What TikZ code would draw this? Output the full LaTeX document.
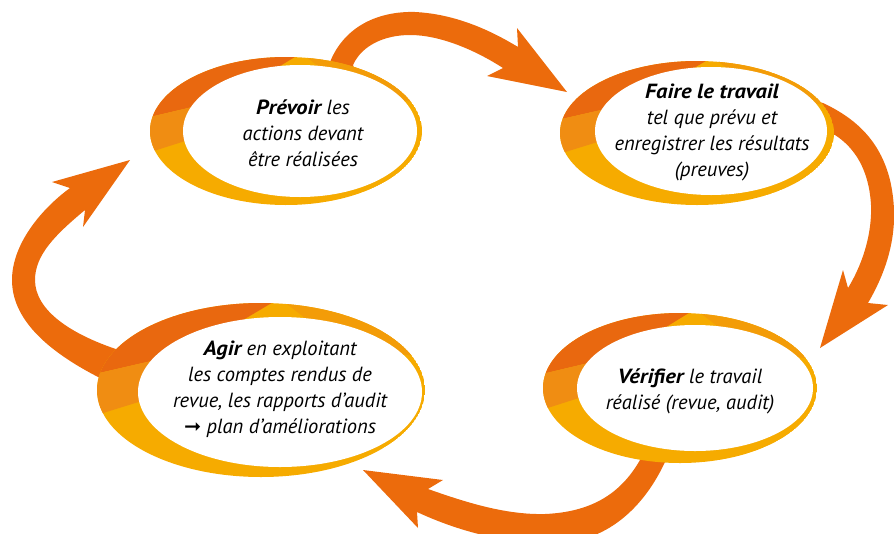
\documentclass[tikz,border=0pt]{standalone}
\usepackage{fontspec}
\setmainfont{PT Sans}
\newfontfamily\symfont{DejaVu Sans}
\newcommand\kw[1]{{\bfseries\addfontfeature{FakeStretch=1.1}#1}}
\definecolor{arrowc}{HTML}{EC6B0C}
\definecolor{orDark}{HTML}{E9680F}
\definecolor{orMid}{HTML}{F08D12}
\definecolor{orTR}{HTML}{F39C08}
\definecolor{orLight}{HTML}{F6AB00}
\tikzset{
  bigarrow/.style={fill=arrowc},
  hole/.style={fill=white},
  label/.style={align=center, font=\fontsize{20.5}{26}\selectfont\itshape, inner sep=0pt}
}
% #1,#2 outer centre, #3,#4 outer radii, #5,#6 inner centre, #7,#8 inner radii
\newcommand\ringdraw[8]{%
  \begin{scope}
    \clip (#1,#2) ellipse [x radius=#3, y radius=#4];
    \fill[orLight] (#1,#2) ellipse [x radius=#3, y radius=#4];
    \begin{scope}[shift={(#1,#2)}, xscale=#3/136, yscale=#4/74]
      \fill[orTR] (0,-90) -- (170,-90) -- (170,-25) -- (70,-35) -- cycle;
      \fill[orDark] (-170,-6) -- (-60,-32) -- (35,-90) -- (-170,-90) -- cycle;
      \fill[orMid] (-170,-6) -- (-60,-32) -- (-60,-3) -- (-170,32) -- cycle;
    \end{scope}
  \end{scope}
  \fill[hole] (#5,#6) ellipse [x radius=#7, y radius=#8];
}
\begin{document}
\begin{tikzpicture}[x=1pt,y=-1pt]
\useasboundingbox (0,0) rectangle (894,533);
\begin{scope}
\clip (0,0) rectangle (894,533);
% arrow 1 : Prevoir -> Faire
\fill[bigarrow] (333,80) -- (330,62) .. controls (345,25) and (380,11) .. (415,12)
  .. controls (455,14) and (490,30) .. (518,47)
  -- (517,28) -- (567,92) -- (487,76) -- (503,68)
  .. controls (475,50) and (440,35) .. (410,35)
  .. controls (385,35) and (362,45) .. (353,65) -- (358,80) -- cycle;
% arrow 2 : Faire -> Verifier
\fill[bigarrow] (805,100) -- (823,103) .. controls (855,118) and (880,140) .. (890,180)
  .. controls (898,215) and (896,255) .. (868,303)
  -- (888,305) -- (820,348) -- (843,270) -- (848,288)
  .. controls (865,260) and (872,230) .. (871,205)
  .. controls (869,170) and (855,148) .. (835,135) -- (815,130) -- cycle;
% arrow 3 : Verifier -> Agir
\fill[bigarrow] (640,445) -- (640,460) .. controls (620,495) and (590,512) .. (545,514)
  .. controls (505,515) and (465,502) .. (428,489)
  -- (443,480) -- (363,470) -- (418,528) -- (417,512)
  .. controls (460,532) and (510,545) .. (560,543)
  .. controls (610,540) and (645,505) .. (665,462) -- (670,445) -- cycle;
% arrow 4 : Agir -> Prevoir
\fill[bigarrow] (125,390) -- (100,378) .. controls (45,350) and (12,318) .. (12,280)
  .. controls (12,245) and (40,210) .. (70,188)
  -- (52,182) -- (130,160) -- (83,227) -- (85,210)
  .. controls (55,235) and (35,255) .. (35,280)
  .. controls (35,310) and (70,335) .. (125,352) -- (145,362) -- cycle;
\end{scope}
% ellipses
\ringdraw{286}{131}{136}{74}{300}{131}{117}{66}
\ringdraw{697}{133}{137}{72}{711}{131}{116}{64}
\ringdraw{261}{390}{164}{87}{280}{392}{142}{75}
\ringdraw{680}{388}{137}{75}{695}{388}{118}{63}
% texts
\node[label] (prevoir) at (303,133) {\kw{Prévoir} les\\actions devant\\être réalisées};
\node[label] (faire) at (712,132) {\kw{Faire le travail}\\tel que prévu et\\enregistrer les résultats\\(preuves)};
\node[label] (agir) at (280,389) {\kw{Agir} en exploitant\\les comptes rendus de\\revue, les rapports d’audit\\{\symfont\upshape\bfseries ➞} plan d’améliorations};
\node[label] (verifier) at (690,391) {\kw{Vérifier} le travail\\réalisé (revue, audit)};
\end{tikzpicture}
\end{document}
